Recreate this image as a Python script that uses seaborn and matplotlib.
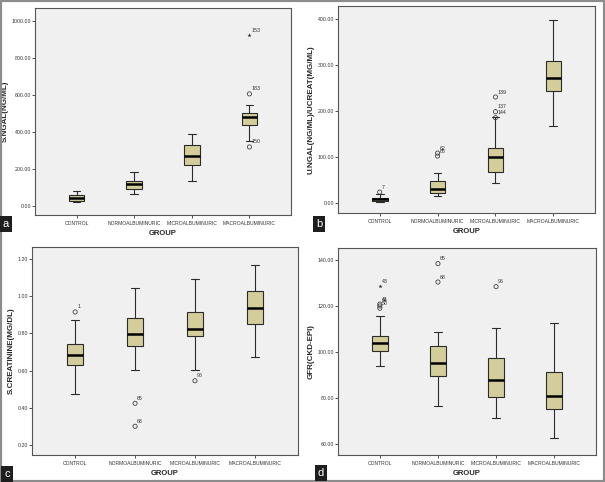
import numpy as np
import pandas as pd
import matplotlib
matplotlib.use("Agg")
import matplotlib.pyplot as plt
import seaborn as sns
from matplotlib.patches import Rectangle

groups = ["CONTROL", "NORMOALBUMINURIC", "MICROALBUMINURIC", "MACROALBUMINURIC"]

# a - serum NGAL
sngal_low = [18, 61, 135, 350]
sngal_q1 = [27, 92, 221, 438]
sngal_med = [43, 118, 268, 481]
sngal_q3 = [57, 136, 330, 499]
sngal_high = [79, 183, 390, 546]
sngal_out_grp = [3, 3, 3]
sngal_out_val = [923, 605, 318]
sngal_out_id = ["153", "183", "150"]
sngal_out_star = [True, False, False]

# b - urine NGAL / urine creatinine
ungal_low = [1.5, 16.5, 43, 167]
ungal_q1 = [5, 23, 67, 244]
ungal_med = [8.6, 31.5, 100, 273]
ungal_q3 = [12, 48, 120, 310]
ungal_high = [19, 65, 188, 398]
ungal_out_grp = [0, 1, 1, 2, 2, 2]
ungal_out_val = [24, 109, 102.5, 231, 199, 186]
ungal_out_id = ["7", "62", "65", "139", "137", "144"]
ungal_out_star = [False, False, False, False, False, False]

# c - serum creatinine
screat_low = [0.474, 0.601, 0.601, 0.672]
screat_q1 = [0.632, 0.731, 0.783, 0.852]
screat_med = [0.683, 0.797, 0.823, 0.934]
screat_q3 = [0.744, 0.879, 0.914, 1.024]
screat_high = [0.873, 1.044, 1.093, 1.164]
screat_out_grp = [0, 1, 1, 2]
screat_out_val = [0.914, 0.424, 0.301, 0.545]
screat_out_id = ["1", "65", "68", "96"]
screat_out_star = [False, False, False, False]

# d - GFR (CKD-EPI)
gfr_low = [94.3, 76.6, 71.3, 62.9]
gfr_q1 = [100.7, 89.7, 80.6, 75.6]
gfr_med = [104.3, 95.3, 88.1, 80.9]
gfr_q3 = [107, 103, 97.7, 91.4]
gfr_high = [115.9, 108.7, 110.7, 113]
gfr_out_grp = [0, 0, 0, 0, 1, 1, 2]
gfr_out_val = [128.7, 121.0, 120.2, 119.2, 138.6, 130.6, 128.6]
gfr_out_id = ["43", "41", "44", "50", "65", "68", "96"]
gfr_out_star = [True, False, False, False, False, False, False]

box_color = "#D3CD9B"

sns.set_style("ticks", {"axes.facecolor": "#F0F0F0"})
plt.rcParams['font.family'] = ['Liberation Sans', 'DejaVu Sans']


def box_frame(low, q1, med, q3, high):
    rows = []
    for g, vals in zip(groups, zip(low, q1, med, q3, high)):
        for v in vals:
            rows.append({"GROUP": g, "value": v})
    return pd.DataFrame(rows)


def draw_panel(ax, df, out_grp, out_val, out_id, out_star, ylabel, ylim, yticks, fmt):
    sns.boxplot(data=df, x="GROUP", y="value", order=groups, whis=np.inf,
                width=0.27, color=box_color, saturation=1, linecolor="#2b2b2b",
                linewidth=0.8, showfliers=False,
                medianprops=dict(color="black", linewidth=1.8), ax=ax)
    for g, v, lab, star in zip(out_grp, out_val, out_id, out_star):
        if star:
            ax.scatter(g, v, marker="*", s=10, color="#333333", linewidths=0, zorder=5)
        else:
            ax.scatter(g, v, marker="o", s=9, facecolors="none", edgecolors="#444444",
                       linewidths=0.6, zorder=5)
        ax.annotate(lab, (g, v), xytext=(1.5, 1.8), textcoords="offset points",
                    fontsize=3.8, ha="left", va="bottom", color="#333333")
    ax.set_xlim(-0.72, 3.72)
    ax.set_ylim(*ylim)
    ax.set_yticks(yticks)
    ax.set_yticklabels([fmt % t for t in yticks])
    ax.set_ylabel(ylabel, fontsize=5.8, fontweight="bold", labelpad=2)
    ax.set_xlabel("GROUP", fontsize=5.5, fontweight="bold", labelpad=3)
    ax.tick_params(axis="both", length=2, width=0.6, pad=1, labelsize=3.8,
                   color="#333333", labelcolor="#333333")
    ax.tick_params(axis="x", labelsize=3.6, pad=2.5)
    for s in ax.spines.values():
        s.set_visible(True)
        s.set_color("#555555")
        s.set_linewidth(0.8)


fig = plt.figure(figsize=(6.05, 4.82), dpi=100)
ax_a = fig.add_axes([0.0579, 0.554, 0.423, 0.4295])
ax_b = fig.add_axes([0.5587, 0.558, 0.4248, 0.4295])
ax_c = fig.add_axes([0.0529, 0.056, 0.4397, 0.4315])
ax_d = fig.add_axes([0.5587, 0.056, 0.4264, 0.4295])

draw_panel(ax_a, box_frame(sngal_low, sngal_q1, sngal_med, sngal_q3, sngal_high),
           sngal_out_grp, sngal_out_val, sngal_out_id, sngal_out_star,
           "S.NGAL(NG/ML)", (-50, 1070), [0, 200, 400, 600, 800, 1000], "%.2f")
draw_panel(ax_b, box_frame(ungal_low, ungal_q1, ungal_med, ungal_q3, ungal_high),
           ungal_out_grp, ungal_out_val, ungal_out_id, ungal_out_star,
           "U.NGAL(NG/ML)/UCREAT(MG/ML)", (-21.5, 429), [0, 100, 200, 300, 400], "%.2f")
draw_panel(ax_c, box_frame(screat_low, screat_q1, screat_med, screat_q3, screat_high),
           screat_out_grp, screat_out_val, screat_out_id, screat_out_star,
           "S.CREATININE(MG/DL)", (0.147, 1.262), [0.2, 0.4, 0.6, 0.8, 1.0, 1.2], "%.2f")
draw_panel(ax_d, box_frame(gfr_low, gfr_q1, gfr_med, gfr_q3, gfr_high),
           gfr_out_grp, gfr_out_val, gfr_out_id, gfr_out_star,
           "GFR(CKD-EPI)", (55.4, 145.4), [60, 80, 100, 120, 140], "%.2f")

# panel letters
for lab, x, y in [("a", 6, 224), ("b", 319, 224), ("c", 7, 474), ("d", 321, 473)]:
    fig.text(x / 605, 1 - y / 482, lab, color="white", fontsize=8, ha="center", va="center",
             bbox=dict(boxstyle="square,pad=0.25", facecolor="#1e1e1e", edgecolor="none"))

fig.add_artist(Rectangle((0, 0), 1, 1, transform=fig.transFigure, fill=False,
                         edgecolor="#8c8c8c", linewidth=3))

plt.savefig("out.png", dpi=100)
